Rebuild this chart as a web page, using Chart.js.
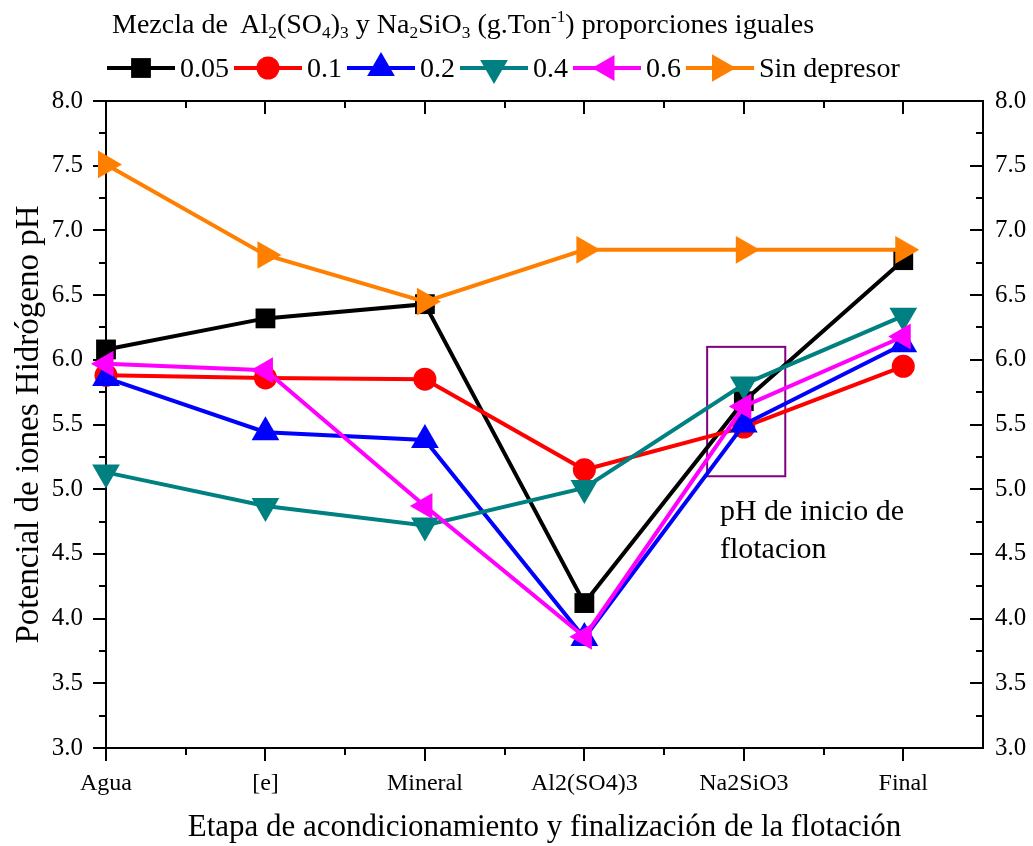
<!DOCTYPE html>
<html>
<head>
<meta charset="utf-8">
<script src="https://cdn.jsdelivr.net/npm/chart.js@4.4.1/dist/chart.umd.min.js"></script>
<style>
  html, body { margin: 0; padding: 0; background: #fff; }
  #wrap { position: relative; width: 1033px; height: 846px; }
  #chart { position: absolute; left: 0; top: 0; }
  #legTitle {
    position: absolute; left: 112px; top: 10px; white-space: nowrap;
    font: 28px "Liberation Serif"; line-height: 1; color: #000;
  }
  #legTitle sub, #legTitle sup { font-size: 0.62em; line-height: 0; }
  #legTitle sub { vertical-align: -0.3em; }
  #legTitle sup { vertical-align: 0.65em; }
  #legend {
    position: absolute; left: 107px; top: 51px; height: 34px;
    display: flex; align-items: center;
    font: 28px "Liberation Serif"; line-height: 1; color: #000;
  }
  #legend .item { display: flex; align-items: center; }
  #legend .item span { margin: 0 5px 0 5px; }
</style>
</head>
<body>
<div id="wrap">
  <canvas id="chart" width="1033" height="846"></canvas>
  <div id="legTitle">Mezcla de&nbsp; Al<sub>2</sub>(SO<sub>4</sub>)<sub>3</sub> y Na<sub>2</sub>SiO<sub>3</sub> (g.Ton<sup>-1</sup>) proporciones iguales</div>
  <div id="legend"></div>
</div>
<script>
// etapas del proceso
const etapas = ['Agua', '[e]', 'Mineral', 'Al2(SO4)3', 'Na2SiO3', 'Final'];

// pH
const ph005 = [6.08, 6.32, 6.43, 4.12, 5.68, 6.77];
const ph01  = [5.88, 5.86, 5.85, 5.15, 5.48, 5.95];
const ph02  = [5.86, 5.44, 5.38, 3.85, 5.50, 6.12];
const ph04  = [5.13, 4.87, 4.72, 5.01, 5.81, 6.34];
const ph06  = [5.97, 5.92, 4.87, 3.86, 5.64, 6.18];
const phSin = [7.51, 6.81, 6.45, 6.85, 6.85, 6.85];

const yMin = 3.0, yMax = 8.0, yStep = 0.5;

// recuadro "pH de inicio de flotacion"
const cajaX = [3.77, 4.26];
const cajaY = [5.10, 6.10];
const notaLineas = ['pH de inicio de', 'flotacion'];
const notaX = 3.85;
const notaY = [4.76, 4.47];

const series = [
    { label: '0.05', data: ph005, color: '#000000', style: 'rect', rot: 0, r: 14 },
    { label: '0.1', data: ph01, color: '#FF0000', style: 'circle', rot: 0, r: 11.5 },
    { label: '0.2', data: ph02, color: '#0000FF', style: 'triangle', rot: 0, r: 16 },
    { label: '0.4', data: ph04, color: '#008080', style: 'triangle', rot: 180, r: 16 },
    { label: '0.6', data: ph06, color: '#FF00FF', style: 'triangle', rot: 270, r: 15 },
    { label: 'Sin depresor', data: phSin, color: '#FF8000', style: 'triangle', rot: 90, r: 16 }
];

const FONT = 'Liberation Serif';

const datasets = series.map((s, i) => ({
    label: s.label,
    data: s.data.map((v, k) => ({ x: k, y: v })),
    borderColor: s.color,
    backgroundColor: s.color,
    borderWidth: 4,
    pointStyle: s.style,
    rotation: s.rot,
    pointRadius: s.r,
    pointBorderWidth: 0,
    pointBackgroundColor: s.color,
    clip: false,
    order: series.length - i
}));

const framePlugin = {
    id: 'frame',
    beforeDatasetsDraw(chart) {
        const { ctx, chartArea: a, scales: { x, y } } = chart;
        ctx.save();
        ctx.strokeStyle = '#000';
        ctx.lineWidth = 2;
        ctx.strokeRect(a.left, a.top, a.right - a.left, a.bottom - a.top);
        ctx.beginPath();
        for (let v = 0; v <= etapas.length - 1; v += 0.5) {
            const px = Math.round(x.getPixelForValue(v));
            const len = Number.isInteger(v) ? 13 : 7;
            ctx.moveTo(px, a.bottom); ctx.lineTo(px, a.bottom + len);
            ctx.moveTo(px, a.top); ctx.lineTo(px, a.top + len);
        }
        for (let v = yMin; v <= yMax + 1e-9; v += yStep / 2) {
            const py = Math.round(y.getPixelForValue(v));
            const major = Math.abs(v / yStep - Math.round(v / yStep)) < 1e-6;
            const len = major ? 13 : 7;
            ctx.moveTo(a.left, py); ctx.lineTo(a.left - len, py);
            ctx.moveTo(a.right, py); ctx.lineTo(a.right - len, py);
        }
        ctx.stroke();

        // recuadro morado
        const x0 = x.getPixelForValue(cajaX[0]), x1 = x.getPixelForValue(cajaX[1]);
        const y0 = y.getPixelForValue(cajaY[1]), y1 = y.getPixelForValue(cajaY[0]);
        ctx.strokeStyle = '#800080';
        ctx.lineWidth = 2;
        ctx.strokeRect(x0, y0, x1 - x0, y1 - y0);

        // nota
        ctx.fillStyle = '#000';
        ctx.font = '30px "' + FONT + '"';
        ctx.textAlign = 'left';
        ctx.textBaseline = 'alphabetic';
        notaLineas.forEach((t, i) => {
            ctx.fillText(t, x.getPixelForValue(notaX), y.getPixelForValue(notaY[i]));
        });
        ctx.restore();
    }
};

const noGrid = { display: false, drawTicks: false, tickLength: 0 };

new Chart(document.getElementById('chart'), {
    type: 'line',
    data: { datasets },
    options: {
        responsive: false,
        animation: false,
        layout: { padding: { top: 101, left: 0, right: 0, bottom: 0 } },
        plugins: { legend: { display: false }, tooltip: { enabled: false } },
        scales: {
            x: {
                type: 'linear',
                min: 0,
                max: 5.5,
                grid: noGrid,
                border: { display: false },
                afterBuildTicks: s => { s.ticks = s.ticks.filter(t => Number.isInteger(t.value)); },
                afterFit: s => { s.height = 98; },
                ticks: {
                    stepSize: 1,
                    color: '#000',
                    font: { family: FONT, size: 24 },
                    padding: 21,
                    maxRotation: 0,
                    autoSkip: false,
                    callback: v => etapas[v]
                },
                title: {
                    display: true,
                    text: 'Etapa de acondicionamiento y finalización de la flotación',
                    color: '#000',
                    font: { family: FONT, size: 31, lineHeight: 1.2 },
                    padding: { top: 0, bottom: 0 }
                }
            },
            y: {
                min: yMin,
                max: yMax,
                grid: noGrid,
                border: { display: false },
                afterFit: s => { s.width = 106; },
                ticks: {
                    stepSize: yStep,
                    color: '#000',
                    font: { family: FONT, size: 25 },
                    padding: 23,
                    callback: v => v.toFixed(1)
                },
                title: {
                    display: true,
                    text: 'Potencial de iones Hidrógeno pH',
                    color: '#000',
                    font: { family: FONT, size: 33, lineHeight: 1.2 },
                    padding: { top: 10, bottom: 0 }
                }
            },
            y2: {
                position: 'right',
                min: yMin,
                max: yMax,
                grid: noGrid,
                border: { display: false },
                afterFit: s => { s.width = 50; },
                ticks: {
                    stepSize: yStep,
                    color: '#000',
                    font: { family: FONT, size: 25 },
                    padding: 12,
                    callback: v => v.toFixed(1)
                }
            }
        }
    },
    plugins: [framePlugin]
});

// leyenda: linea con marcador
const legend = document.getElementById('legend');
series.forEach(s => {
    const item = document.createElement('div');
    item.className = 'item';
    const cv = document.createElement('canvas');
    cv.width = 68; cv.height = 34;
    const c = cv.getContext('2d');
    c.strokeStyle = s.color;
    c.fillStyle = s.color;
    c.lineWidth = 4;
    c.beginPath(); c.moveTo(0, 17); c.lineTo(68, 17); c.stroke();
    Chart.helpers.drawPoint(c, { pointStyle: s.style, rotation: s.rot, radius: s.r, borderWidth: 0 }, 34, 17);
    const lab = document.createElement('span');
    lab.textContent = s.label;
    item.appendChild(cv);
    item.appendChild(lab);
    legend.appendChild(item);
});
</script>
</body>
</html>
